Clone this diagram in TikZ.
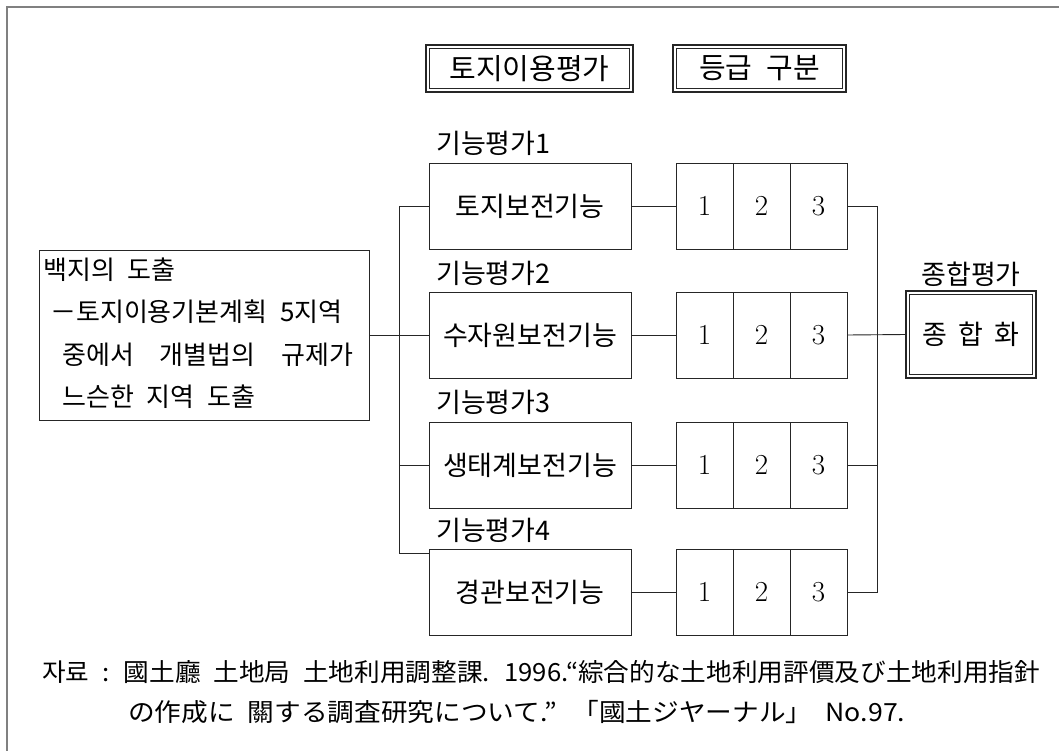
\documentclass[tikz,border=0pt]{standalone}
\usepackage{fontspec}
\usepackage{graphicx}
\newfontfamily\kr[WordSpace=2.2]{Noto Sans CJK KR}
\begin{document}
\begin{tikzpicture}[x=1pt,y=-1pt,
  ln/.style={line width=0.9pt, draw=black!85},
  box/.style={draw=black!85, line width=0.9pt, inner sep=0pt, outer sep=0pt, minimum width=202pt, minimum height=86pt, font=\kr\fontsize{27}{30}\selectfont},
  dnode/.style={inner sep=0pt, outer sep=0pt},
  outerln/.style={draw=black!85, line width=1.3pt},
  innerln/.style={draw=black!85, line width=0.9pt},
  cell/.style={draw=black!85, line width=0.9pt, inner sep=0pt, outer sep=0pt, minimum width=57pt, minimum height=86pt, font=\fontsize{29}{32}\selectfont},
  lbl/.style={anchor=west, inner sep=0pt, font=\kr\fontsize{27}{30}\selectfont},
  srctxt/.style={anchor=west, inner sep=0pt, font=\kr\fontsize{26}{30}\selectfont},
  frameln/.style={line width=1.8pt, draw=black!50}
]
\useasboundingbox (0,0) rectangle (1059,751);
\fill[white] (0,0) rectangle (1059,751);
\draw[frameln] (7,751) -- (7,7) -- (1059,7);

% header boxes (double frame)
\node[dnode, minimum width=207pt, minimum height=47pt, font=\kr\fontsize{29}{32}\selectfont] (top1) at (529.5,68.5) {토지이용평가};
\node[dnode, minimum width=173pt, minimum height=47pt, font=\kr\fontsize{29}{32}\selectfont] (top2) at (759.5,68.5) {등급 구분};
\foreach \n in {top1,top2}{
  \draw[outerln] (\n.north west) rectangle (\n.south east);
  \draw[innerln] ([shift={(3.5,3.5)}]\n.north west) rectangle ([shift={(-3.5,-3.5)}]\n.south east);
}

% labels
\node[lbl] (l1) at (436,143) {기능평가1};
\node[lbl] (l2) at (436,273) {기능평가2};
\node[lbl] (l3) at (436,402) {기능평가3};
\node[lbl] (l4) at (436,530) {기능평가4};

% function boxes
\node[box] (f1) at (530,206) {토지보전기능};
\node[box] (f2) at (530,335) {수자원보전기능};
\node[box] (f3) at (530,465) {생태계보전기능};
\node[box] (f4) at (530,592) {경관보전기능};

% grade cells
\foreach \r/\y in {1/206,2/335,3/465,4/592}{
  \node[cell] (g\r a) at (704.5,\y) {1};
  \node[cell] (g\r b) at (761.5,\y) {2};
  \node[cell] (g\r c) at (818.5,\y) {3};
}

% source box
\node[draw=black!85, line width=0.9pt, minimum width=330pt, minimum height=170pt, inner sep=0pt, outer sep=0pt] (src) at (204,335) {};
\node[srctxt] (s1) at (43,270) {백지의 도출};
\node[srctxt] (s2) at (50,312) {－토지이용기본계획 5지역};
\node[srctxt] (s3) at (62,355) {\hbox to 291pt{중에서\hfill 개별법의\hfill 규제가}};
\node[srctxt] (s4) at (62,397) {느슨한 지역 도출};

% total evaluation
\node[inner sep=0pt, font=\kr\fontsize{27}{30}\selectfont] (totl) at (971,274) {종합평가};
\node[dnode, minimum width=130pt, minimum height=87pt, font=\kr\fontsize{27}{30}\selectfont] (tot) at (971,334.5) {종\hspace{11pt}합\hspace{11pt}화};
\draw[outerln] (tot.north west) rectangle (tot.south east);
\draw[innerln] ([shift={(3.5,3.5)}]tot.north west) rectangle ([shift={(-3.5,-3.5)}]tot.south east);

% left tree
\coordinate (lt) at (399,206);
\coordinate (lb) at (399,553);
\draw[ln] (lt) -- (lb);
\draw[ln] (lt) -- (f1.west);
\draw[ln] (src.east |- f2.west) -- (f2.west);
\draw[ln] (lt |- f3.west) -- (f3.west);
\draw[ln] (lb) -- (f4.west |- lb);

% function -> grade
\draw[ln] (f1.east) -- (g1a.west);
\draw[ln] (f2.east) -- (g2a.west);
\draw[ln] (f3.east) -- (g3a.west);
\draw[ln] (f4.east) -- (g4a.west);

% right tree
\coordinate (rt) at (877,206);
\coordinate (rb) at (877,592);
\draw[ln] (g1c.east) -- (rt) -- (rb) -- (g4c.east);
\draw[ln] (g3c.east) -- (rt |- g3c.east);
\draw[ln] (g2c.east) -- (tot.west);

% reference text
\node[anchor=west, inner sep=0pt] (ref1) at (42,672) {\resizebox{998pt}{\height}{\kr\fontsize{25}{30}\selectfont 자료 : 國土廳 土地局 土地利用調整課. 1996.“綜合的な土地利用評價及び土地利用指針}};
\node[anchor=west, inner sep=0pt] (ref2) at (128,712) {\resizebox{777pt}{\height}{\kr\fontsize{25}{30}\selectfont の作成に 關する調査研究について.” 「國土ジヤーナル」 No.97.}};
\end{tikzpicture}
\end{document}
